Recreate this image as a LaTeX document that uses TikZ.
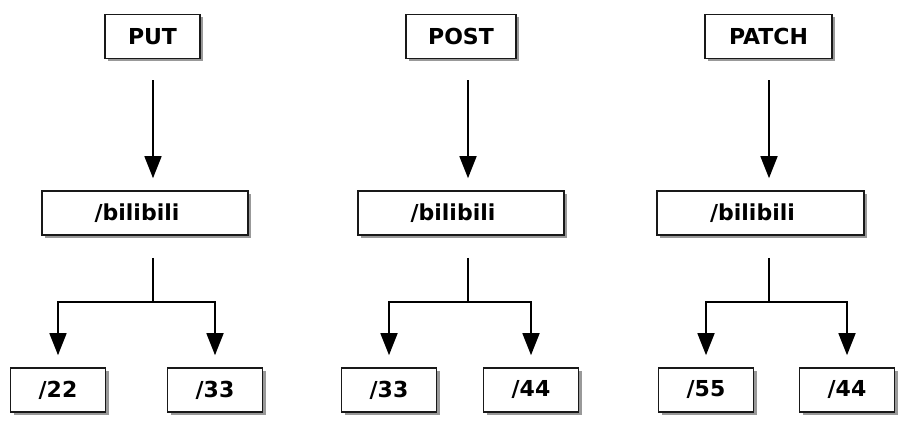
\documentclass[tikz,border=0pt]{standalone}
\usepackage{fontspec}
\setmainfont{DejaVu Sans}
\usetikzlibrary{arrows.meta,shadows}
\begin{document}
\begin{tikzpicture}[x=1pt,y=-1pt,
  box/.style={draw=black!90, line width=1.6pt, fill=white, minimum height=44pt,
    inner sep=0pt, font=\fontsize{22}{26}\selectfont\bfseries,
    drop shadow={shadow xshift=3pt, shadow yshift=-3pt, fill=black, opacity=0.4}},
  conn/.style={draw=black, line width=1.6pt},
  arr/.style={conn, -{Triangle[length=22pt 0,width=17pt 0]}}
]
\useasboundingbox (0,0) rectangle (913,427);
% tree 1
\node[box, minimum width=95pt]  (put)  at (152.5,36.5) {PUT};
\node[box, minimum width=206pt] (b1)   at (145,213) {/bilibili\hspace*{16pt}};
\node[box, minimum width=95pt]  (c11)  at (58,390) {/22};
\node[box, minimum width=95pt]  (c12)  at (215,390) {/33};
\coordinate (j1) at (153,302);
% tree 2
\node[box, minimum width=110pt] (post) at (461,36.5) {POST};
\node[box, minimum width=206pt] (b2)   at (461,213) {/bilibili\hspace*{16pt}};
\node[box, minimum width=95pt]  (c21)  at (389,390) {/33};
\node[box, minimum width=95pt]  (c22)  at (531,390) {/44};
\coordinate (j2) at (468,302);
% tree 3
\node[box, minimum width=127pt] (patch) at (768.5,36.5) {PATCH};
\node[box, minimum width=207pt] (b3)    at (760.5,213) {/bilibili\hspace*{16pt}};
\node[box, minimum width=95pt]  (c31)   at (706,390) {/55};
\node[box, minimum width=95pt]  (c32)   at (847,390) {/44};
\coordinate (j3) at (769,302);
% connectors
\foreach \t/\b/\j/\l/\r in {put/b1/j1/c11/c12, post/b2/j2/c21/c22, patch/b3/j3/c31/c32}{
  \draw[arr, shorten <=21pt, shorten >=12pt] (\t.south -| \j) -- (\b.north -| \j);
  \draw[conn, shorten <=22pt] (\b.south -| \j) -- (\j);
  \draw[arr, shorten >=12pt] (\j) -| (\l.north);
  \draw[arr, shorten >=12pt] (\j) -| (\r.north);
}
\end{tikzpicture}
\end{document}
